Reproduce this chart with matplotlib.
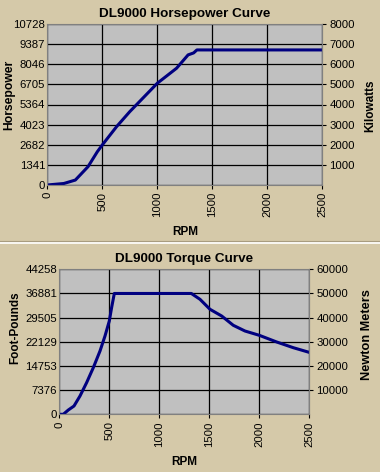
import matplotlib
matplotlib.use("Agg")
import matplotlib.pyplot as plt
from matplotlib.lines import Line2D

# Horsepower curve data
hp_rpm = [0, 150, 255, 370, 455, 500, 630, 750, 1000, 1175, 1280, 1330, 1360, 2500]
hp_values = [0, 100, 330, 1220, 2220, 2670, 3890, 4890, 6780, 7780, 8670, 8800, 9000, 9000]
hp_ticks = [0, 1341, 2682, 4023, 5364, 6705, 8046, 9387, 10728]
kw_ticks = [1000, 2000, 3000, 4000, 5000, 6000, 7000, 8000]

# Torque curve data
tq_rpm = [0, 40, 90, 147, 207, 273, 340, 407, 457, 500, 523, 550, 1320, 1407, 1507,
          1624, 1740, 1857, 2000, 2174, 2340, 2500]
tq_values = [0, 0, 1310, 2530, 5590, 9650, 14230, 19320, 23900, 28480, 32540, 36881,
             36881, 35100, 32050, 30000, 27160, 25420, 24110, 22070, 20330, 18900]
ftlb_ticks = [0, 7376, 14753, 22129, 29505, 36881, 44258]
nm_ticks = [10000, 20000, 30000, 40000, 50000, 60000]

rpm_ticks = [0, 500, 1000, 1500, 2000, 2500]

BG = "#D5C9A9"
PLOT_BG = "#C0C0C0"
LINE = "#000080"
FONT = ["Liberation Sans", "DejaVu Sans"]
plt.rcParams["font.family"] = FONT

fig = plt.figure(figsize=(3.8, 4.72), dpi=100, facecolor=BG)


def style_axes(ax, ax2):
    ax.set_facecolor(PLOT_BG)
    for s in ax.spines.values():
        s.set_color("#808080")
        s.set_linewidth(0.8)
    for s in ax2.spines.values():
        s.set_visible(False)
    ax.grid(True, color="black", linewidth=0.9)
    ax.set_axisbelow(True)
    ax.tick_params(axis="y", length=0, labelsize=8.2, pad=1.5)
    ax.tick_params(axis="x", length=3, labelsize=8.2, labelrotation=90, pad=2)
    ax2.tick_params(axis="y", length=3, labelsize=8.2, pad=2, color="black")
    ax2.spines["right"].set_visible(True)
    ax2.spines["right"].set_color("#808080")


def place_labels(ax, axb, left_xy, right_xy, bottom_y):
    ax.yaxis.set_label_coords(*left_xy)
    ax.yaxis.label.set_verticalalignment("center")
    axb.yaxis.set_label_coords(*right_xy)
    axb.yaxis.label.set_verticalalignment("center")
    ax.xaxis.set_label_coords(0.5, bottom_y)
    ax.xaxis.label.set_verticalalignment("center")


# Top chart
ax1 = fig.add_axes([47.3 / 380, 1 - 185 / 472, 275 / 380, 161 / 472])
ax1.plot(hp_rpm, hp_values, color=LINE, linewidth=2.2)
ax1.set_xlim(0, 2500)
ax1.set_ylim(0, 10728)
ax1.set_xticks(rpm_ticks)
ax1.set_yticks(hp_ticks)
ax1b = ax1.twinx()
ax1b.set_ylim(0, 8000)
ax1b.set_yticks(kw_ticks)
style_axes(ax1, ax1b)
ax1.set_title("DL9000 Horsepower Curve", fontsize=9.7, fontweight="bold", pad=5)
ax1.set_xlabel("RPM", fontsize=8.5, fontweight="bold")
ax1.set_ylabel("Horsepower", fontsize=8.7, fontweight="bold")
ax1b.set_ylabel("Kilowatts", fontsize=8.5, fontweight="bold")
place_labels(ax1, ax1b,
             ((9.5 - 47.3) / 275, (185 - 95) / 161),
             ((370 - 47.3) / 275, (185 - 106) / 161),
             (185 - 232) / 161)

# Bottom chart
ax2 = fig.add_axes([59.3 / 380, 1 - 414.3 / 472, 250 / 380, 145 / 472])
ax2.plot(tq_rpm, tq_values, color=LINE, linewidth=2.2)
ax2.set_xlim(0, 2500)
ax2.set_ylim(0, 44258)
ax2.set_xticks(rpm_ticks)
ax2.set_yticks(ftlb_ticks)
ax2b = ax2.twinx()
ax2b.set_ylim(0, 60000)
ax2b.set_yticks(nm_ticks)
style_axes(ax2, ax2b)
ax2.set_title("DL9000 Torque Curve", fontsize=9.7, fontweight="bold", pad=5)
ax2.set_xlabel("RPM", fontsize=8.5, fontweight="bold")
ax2.set_ylabel("Foot-Pounds", fontsize=8.5, fontweight="bold")
ax2b.set_ylabel("Newton Meters", fontsize=9.2, fontweight="bold")
place_labels(ax2, ax2b,
             ((15.5 - 59.3) / 250, (414.3 - 327.7) / 145),
             ((367 - 59.3) / 250, (414.3 - 334.3) / 145),
             (414.3 - 462) / 145)

# Separator between the two charts
fig.add_artist(Line2D([0, 1], [1 - 241 / 472, 1 - 241 / 472], color="#A89C80", linewidth=0.8))
fig.add_artist(Line2D([0, 1], [1 - 242.5 / 472, 1 - 242.5 / 472], color="white", linewidth=1.2))

fig.savefig("out.png", dpi=100, facecolor=BG)
